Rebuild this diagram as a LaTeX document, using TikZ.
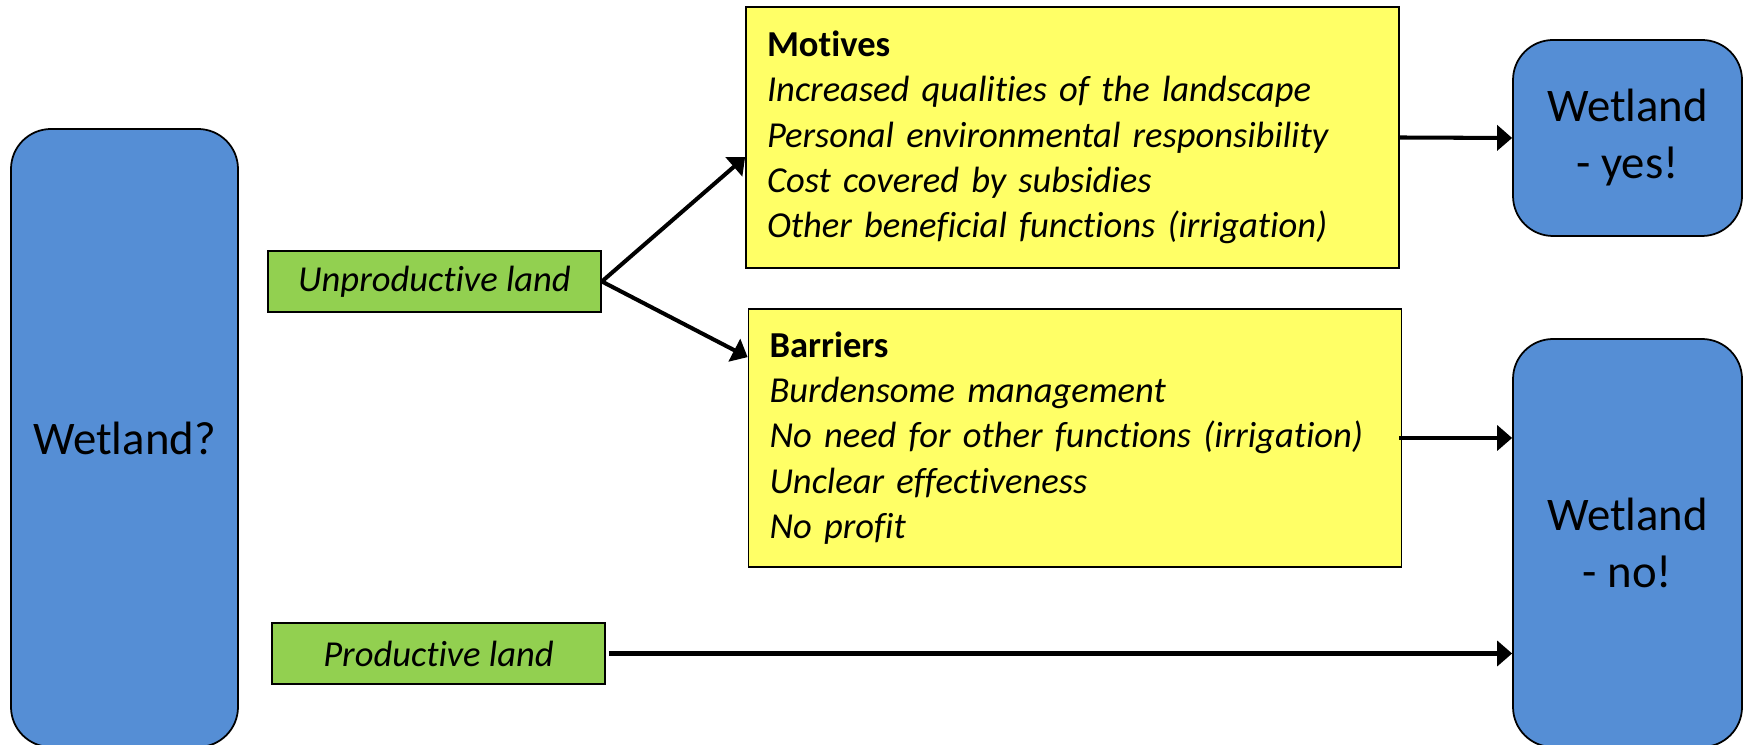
\documentclass[tikz,border=0pt]{standalone}
\usepackage{fontspec}
\setmainfont{Carlito}[Ligatures={NoCommon,NoContextual},Contextuals=NoAlternate]
\usetikzlibrary{arrows.meta}
\definecolor{WetClr}{RGB}{85,142,213}
\definecolor{LandClr}{RGB}{146,208,80}
\definecolor{NoteClr}{RGB}{255,255,102}

\begin{document}
\begin{tikzpicture}[
  wet/.style={draw=black,line width=1pt,fill=WetClr,rounded corners=0.8cm,
    minimum width=4.58cm,align=center,inner sep=0pt,
    font=\fontsize{26.6}{32.4}\selectfont},
  land/.style={draw=black,line width=1pt,fill=LandClr,minimum width=6.66cm,
    minimum height=1.22cm,inner sep=0pt,font=\fontsize{20.8}{25.3}\selectfont\itshape},
  note/.style={draw=black,line width=1pt,fill=NoteClr,text width=12.22cm,
    inner xsep=0.42cm,inner ysep=0pt,align=left,
    font=\fontsize{20.8}{25.8}\selectfont},
  arr/.style={line width=2.3pt,-{Triangle[length=0.3cm,width=0.5cm]}}]
\useasboundingbox (0,0) rectangle (34.88,14.9);

% left column
\node[wet,minimum width=4.54cm,minimum height=12.36cm] (ask) at (2.49,6.14) {Wetland?};
\node[land] (unprod) at (8.69,9.27) {Unproductive land};
\node[land] (prod) at (8.77,1.83) {Productive land};

% motives and barriers
\node[note,minimum height=5.22cm] (motives) at (21.45,12.15)
  {\textbf{Motives}\\
   \textit{Increased qualities of the landscape}\\
   \textit{Personal environmental responsibility}\\
   \textit{Cost covered by subsidies}\\
   \textit{Other beneficial functions (irrigation)}};
\node[note,minimum height=5.16cm] (barriers) at (21.50,6.14)
  {\textbf{Barriers}\\
   \textit{Burdensome management}\\
   \textit{No need for other functions (irrigation)}\\
   \textit{Unclear effectiveness}\\
   \textit{No profit}};

% outcomes
\node[wet,minimum height=3.92cm] (yes) at (32.55,12.14) {Wetland\\- yes!};
\node[wet,minimum height=8.16cm] (no) at (32.55,4.04) {Wetland\\- no!};

% arrows
\draw[arr] (unprod.east) -- ([yshift=-0.39cm]motives.west);
\draw[arr] (unprod.east) -- ([yshift=-0.98cm]barriers.north west);
\draw[arr] (motives.east) -- (yes.west);
\draw[arr] ([xshift=-0.06cm]barriers.east) -- (barriers.east -| no.west);
\draw[arr] ([xshift=0.06cm]prod.east) -- (prod.east -| no.west);

\end{tikzpicture}
\end{document}
